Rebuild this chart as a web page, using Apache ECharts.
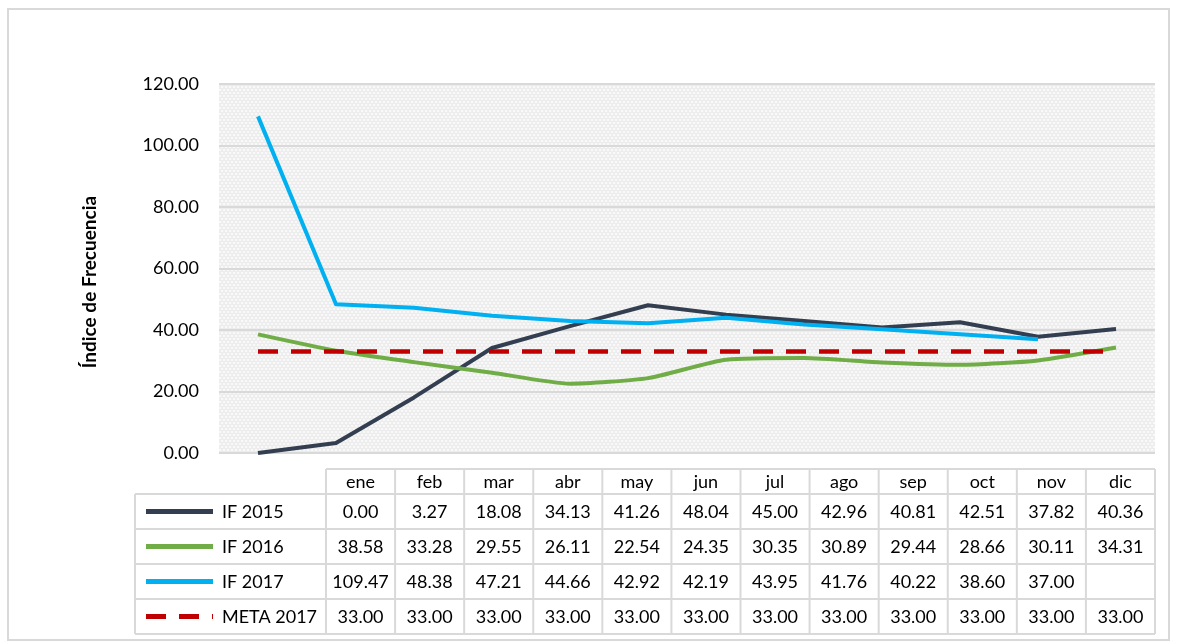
<!DOCTYPE html>
<html>
<head>
<meta charset="utf-8">
<script src="https://cdn.jsdelivr.net/npm/echarts@6/dist/echarts.min.js"></script>
<style>
  html, body { margin: 0; padding: 0; background: #ffffff; }
  #chart { width: 1178px; height: 644px; }
</style>
</head>
<body>
<div id="chart"></div>
<script>
// Monthly frequency index by year, plus the 2017 target
const months = ['ene', 'feb', 'mar', 'abr', 'may', 'jun', 'jul', 'ago', 'sep', 'oct', 'nov', 'dic'];
const if2015 = [0.00, 3.27, 18.08, 34.13, 41.26, 48.04, 45.00, 42.96, 40.81, 42.51, 37.82, 40.36];
const if2016 = [38.58, 33.28, 29.55, 26.11, 22.54, 24.35, 30.35, 30.89, 29.44, 28.66, 30.11, 34.31];
const if2017 = [109.47, 48.38, 47.21, 44.66, 42.92, 42.19, 43.95, 41.76, 40.22, 38.60, 37.00, null];
const meta2017 = [33.00, 33.00, 33.00, 33.00, 33.00, 33.00, 33.00, 33.00, 33.00, 33.00, 33.00, 33.00];
const yTicks = { min: 0, max: 120, interval: 20 };

const seriesDefs = [
  { name: 'IF 2015', data: if2015, color: '#333f50', width: 4, dash: null, smooth: false },
  { name: 'IF 2016', data: if2016, color: '#70ad47', width: 4, dash: null, smooth: 0.2 },
  { name: 'IF 2017', data: if2017, color: '#00b0f0', width: 4, dash: null, smooth: false },
  { name: 'META 2017', data: meta2017, color: '#c00000', width: 4.5, dash: [20, 13], smooth: false }
];

const FONT = 'Lato, "Open Sans", sans-serif';

// soft zigzag texture for the plot area
function makeTexture() {
  const c = document.createElement('canvas');
  c.width = 8; c.height = 6;
  const g = c.getContext('2d');
  g.fillStyle = '#f9f9f9';
  g.fillRect(0, 0, 8, 6);
  g.strokeStyle = '#e0e0e0';
  g.lineWidth = 1;
  [1.5, 4.5].forEach(function (y0, k) {
    const off = k ? 2 : 0;
    g.beginPath();
    for (let x = -4; x <= 12; x += 4) {
      g.moveTo(x + off, y0 + 1);
      g.lineTo(x + off + 2, y0 - 1);
      g.lineTo(x + off + 4, y0 + 1);
    }
    g.stroke();
  });
  return c;
}

// data table under the plot
const table = { left: 135, colStart: 326, right: 1155, headTop: 469, rowTop: 494, rowH: 35 };
function buildTable() {
  const els = [];
  const colW = (table.right - table.colStart) / months.length;
  const bottom = table.rowTop + table.rowH * seriesDefs.length;
  const border = { stroke: '#d9d9d9', lineWidth: 2 };
  // horizontal rules
  els.push({ type: 'line', shape: { x1: table.colStart, y1: table.headTop, x2: table.right, y2: table.headTop }, style: border, silent: true });
  for (let r = 0; r <= seriesDefs.length; r++) {
    const y = table.rowTop + r * table.rowH;
    els.push({ type: 'line', shape: { x1: table.left, y1: y, x2: table.right, y2: y }, style: border, silent: true });
  }
  // vertical rules
  els.push({ type: 'line', shape: { x1: table.left, y1: table.rowTop, x2: table.left, y2: bottom }, style: border, silent: true });
  for (let c = 0; c <= months.length; c++) {
    const x = table.colStart + c * colW;
    els.push({ type: 'line', shape: { x1: x, y1: table.headTop, x2: x, y2: bottom }, style: border, silent: true });
  }
  // month headers
  months.forEach(function (m, i) {
    els.push({ type: 'text', x: table.colStart + (i + 0.5) * colW, y: (table.headTop + table.rowTop) / 2 + 1,
      style: { text: m, font: '18px ' + FONT, fill: '#000', align: 'center', verticalAlign: 'middle' }, silent: true });
  });
  // rows: legend key + values
  seriesDefs.forEach(function (s, r) {
    const cy = table.rowTop + (r + 0.5) * table.rowH;
    els.push({ type: 'line', shape: { x1: 146, y1: cy, x2: 213, y2: cy },
      style: { stroke: s.color, lineWidth: 5, lineDash: s.dash || null }, silent: true });
    els.push({ type: 'text', x: 222, y: cy + 1,
      style: { text: s.name, font: '18px ' + FONT, fill: '#000', align: 'left', verticalAlign: 'middle' }, silent: true });
    s.data.forEach(function (v, i) {
      if (v === null) return;
      els.push({ type: 'text', x: table.colStart + (i + 0.5) * colW, y: cy + 1,
        style: { text: v.toFixed(2), font: '18px ' + FONT, fill: '#000', align: 'center', verticalAlign: 'middle' }, silent: true });
    });
  });
  return els;
}

const chart = echarts.init(document.getElementById('chart'), null, { renderer: 'canvas' });

const graphics = [
  { type: 'rect', shape: { x: 8, y: 9, width: 1161, height: 631 },
    style: { fill: null, stroke: '#d9d9d9', lineWidth: 2 }, silent: true, z: -10 },
  { type: 'text', x: 90, y: 282, rotation: Math.PI / 2,
    style: { text: 'Índice de Frecuencia', font: 'bold 19px ' + FONT, fill: '#000', align: 'center', verticalAlign: 'middle' }, silent: true }
].concat(buildTable());

chart.setOption({
  animation: false,
  backgroundColor: '#ffffff',
  grid: {
    left: 219, right: 23, top: 84, bottom: 191,
    show: true, borderWidth: 0,
    backgroundColor: { image: makeTexture(), repeat: 'repeat' }
  },
  xAxis: {
    type: 'category',
    data: months,
    boundaryGap: true,
    axisLine: { show: false },
    axisTick: { show: false },
    axisLabel: { show: false },
    splitLine: { show: false }
  },
  yAxis: {
    type: 'value',
    min: yTicks.min, max: yTicks.max, interval: yTicks.interval,
    axisLine: { show: false },
    axisTick: { show: false },
    axisLabel: { margin: 20, color: '#000', fontFamily: FONT, fontSize: 18,
      formatter: function (v) { return v.toFixed(2); } },
    splitLine: { show: true, lineStyle: { color: '#d9d9d9', width: 2 } }
  },
  series: seriesDefs.map(function (s) {
    return {
      name: s.name, type: 'line', data: s.data,
      smooth: s.smooth, symbol: 'none', connectNulls: false,
      lineStyle: { color: s.color, width: s.width, type: s.dash || 'solid', cap: 'butt', join: 'round' },
      itemStyle: { color: s.color },
      z: 3
    };
  }),
  graphic: graphics
});
</script>
</body>
</html>
